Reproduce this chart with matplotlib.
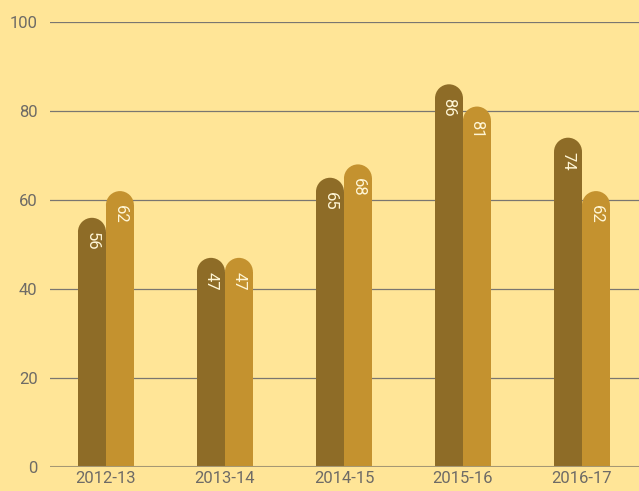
import matplotlib
matplotlib.use('Agg')
import matplotlib.pyplot as plt
from matplotlib.patches import Rectangle, Ellipse
import numpy as np

# dados
years = ['2012-13', '2013-14', '2014-15', '2015-16', '2016-17']
serie_a = [56, 47, 65, 86, 74]
serie_b = [62, 47, 68, 81, 62]

bg = '#FFE597'
cor_a = '#8E6C27'
cor_b = '#C4922F'

plt.rcParams['font.family'] = ['Roboto', 'DejaVu Sans']

fig = plt.figure(figsize=(6.39, 4.91), dpi=100, facecolor=bg)
ax = fig.add_axes([50 / 639, 24 / 491, 589 / 639, 445 / 491], facecolor=bg)

ax.set_xlim(-0.47, 4.479)
ax.set_ylim(0, 100)

w = 0.235
# raio do topo arredondado em unidades de dados
px_x = 589 / 4.949
px_y = 445 / 100
ry = (w * px_x / 2) / px_y

x = np.arange(len(years))
for xs, vals, cor in [(x - w / 2, serie_a, cor_a), (x + w / 2, serie_b, cor_b)]:
    for xi, v in zip(xs, vals):
        ax.add_patch(Rectangle((xi - w / 2, 0), w, v - ry, facecolor=cor, edgecolor='none', zorder=3))
        ax.add_patch(Ellipse((xi, v - ry), w, 2 * ry, facecolor=cor, edgecolor='none', zorder=3))
        ax.annotate(str(v), (xi, v), xytext=(0, -10), textcoords='offset points',
                    rotation=270, ha='center', va='top', color='#FFF6D6', fontsize=12, zorder=4)

for g in [20, 40, 60, 80, 100]:
    ax.axhline(g, color='#7A7670', lw=0.9, zorder=1)
ax.axhline(0, color='#A69873', lw=1.5, zorder=4)

ax.set_yticks([0, 20, 40, 60, 80, 100])
ax.set_xticks(x)
ax.set_xticklabels(years)
ax.tick_params(length=0, labelsize=12, colors='#6E6B66')
ax.tick_params(axis='y', pad=9)
ax.tick_params(axis='x', pad=3)
for s in ax.spines.values():
    s.set_visible(False)

fig.savefig('out.png', dpi=100, facecolor=bg)
